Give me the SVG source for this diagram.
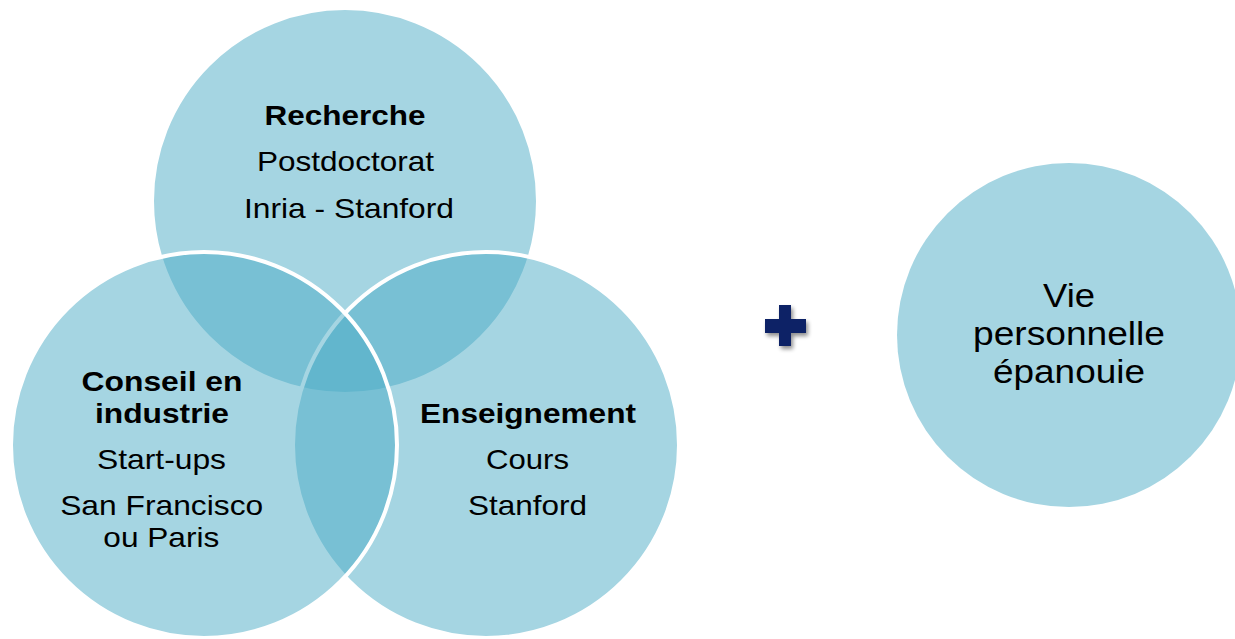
<svg xmlns="http://www.w3.org/2000/svg" width="1235" height="639" viewBox="0 0 1235 639">
  <defs>
    <style>
      .venn { fill: #4BACC6; fill-opacity: 0.5; stroke: #FFFFFF; stroke-width: 4; }
      .solo { fill: #A5D5E2; stroke: none; }
      .t { font-family: "Liberation Sans", Arial, sans-serif; font-size: 28px; fill: #000000; text-anchor: middle; }
      .b { font-weight: bold; }
      .v { font-size: 33px; }
      .plus { fill: #0C2466; }
    </style>
    <filter id="shadow" x="-50%" y="-50%" width="200%" height="200%">
      <feGaussianBlur in="SourceAlpha" stdDeviation="2"/>
      <feOffset dx="2" dy="3" result="o"/>
      <feComponentTransfer><feFuncA type="linear" slope="0.45"/></feComponentTransfer>
      <feMerge><feMergeNode/><feMergeNode in="SourceGraphic"/></feMerge>
    </filter>
  </defs>
  <rect width="1235" height="639" fill="#FFFFFF"/>

  <g id="recherche">
    <circle class="venn" cx="345" cy="201" r="193"/>
    <text class="t b" x="345" y="125" textLength="161" lengthAdjust="spacingAndGlyphs">Recherche</text>
    <text class="t" x="345.5" y="171" textLength="177" lengthAdjust="spacingAndGlyphs">Postdoctorat</text>
    <text class="t" x="349" y="218" textLength="210" lengthAdjust="spacingAndGlyphs">Inria - Stanford</text>
  </g>

  <g id="enseignement">
    <circle class="venn" cx="486" cy="445" r="193"/>
    <text class="t b" x="528" y="423" textLength="216" lengthAdjust="spacingAndGlyphs">Enseignement</text>
    <text class="t" x="527.5" y="469" textLength="83" lengthAdjust="spacingAndGlyphs">Cours</text>
    <text class="t" x="527.5" y="515" textLength="119" lengthAdjust="spacingAndGlyphs">Stanford</text>
  </g>

  <g id="conseil">
    <circle class="venn" cx="204" cy="445" r="193"/>
    <text class="t b" x="162" y="391" textLength="161" lengthAdjust="spacingAndGlyphs">Conseil en</text>
    <text class="t b" x="162" y="423" textLength="134" lengthAdjust="spacingAndGlyphs">industrie</text>
    <text class="t" x="161.5" y="469" textLength="129" lengthAdjust="spacingAndGlyphs">Start-ups</text>
    <text class="t" x="161.7" y="515" textLength="203" lengthAdjust="spacingAndGlyphs">San Francisco</text>
    <text class="t" x="161.3" y="547" textLength="116" lengthAdjust="spacingAndGlyphs">ou Paris</text>
  </g>

  <g id="plus" filter="url(#shadow)">
    <rect class="plus" x="765" y="319" width="41" height="14"/>
    <rect class="plus" x="779" y="305" width="12" height="41"/>
  </g>

  <g id="vie">
    <circle class="solo" cx="1069" cy="335" r="172"/>
    <text class="t v" x="1069" y="307" textLength="52" lengthAdjust="spacingAndGlyphs">Vie</text>
    <text class="t v" x="1069" y="345" textLength="192" lengthAdjust="spacingAndGlyphs">personnelle</text>
    <text class="t v" x="1069" y="383" textLength="152" lengthAdjust="spacingAndGlyphs">épanouie</text>
  </g>

  <g id="connectors"/>
</svg>
